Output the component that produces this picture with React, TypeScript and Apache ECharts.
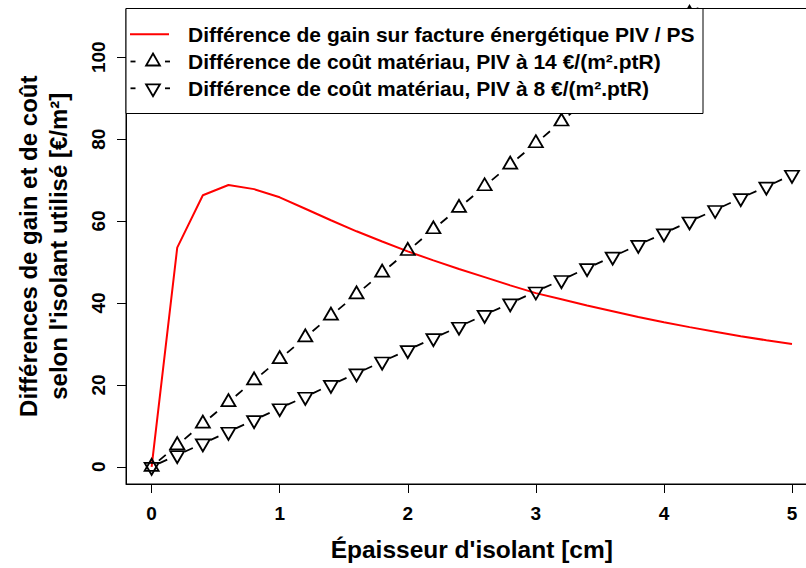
import React, { useEffect, useRef } from "react";
import * as echarts from "echarts";

// ---- data ----
const thickness = [0, 0.2, 0.4, 0.6, 0.8, 1.0, 1.2, 1.4, 1.6, 1.8, 2.0, 2.2, 2.4, 2.6, 2.8, 3.0, 3.2, 3.4, 3.6, 3.8, 4.0, 4.2, 4.4, 4.6, 4.8, 5.0];
const gainDiff = [0, 53.5, 66.3, 68.8, 67.8, 65.8, 63.0, 60.2, 57.5, 55.0, 52.6, 50.4, 48.3, 46.3, 44.3, 42.4, 40.9, 39.4, 38.0, 36.6, 35.3, 34.1, 33.0, 31.9, 30.9, 30.0];
const cost14 = [0, 5.27, 10.54, 15.8, 21.1, 26.3, 31.6, 36.9, 42.1, 47.4, 52.7, 58.0, 63.2, 68.5, 73.8, 79.0, 84.3, 89.6, 94.8, 100.1, 105.4, 110.6, 115.9, 121.2, 126.5, 131.7];
const cost8 = [0, 2.85, 5.7, 8.55, 11.4, 14.3, 17.1, 20.0, 22.8, 25.7, 28.5, 31.4, 34.2, 37.1, 39.9, 42.8, 45.6, 48.5, 51.3, 54.2, 57.0, 59.9, 62.7, 65.6, 68.4, 71.3];
const xTicks = [0, 1, 2, 3, 4, 5];
const yTicks = [0, 20, 40, 60, 80, 100];
const legendLabels = [
  "Différence de gain sur facture énergétique PIV / PS",
  "Différence de coût matériau, PIV à 14 €/(m².ptR)",
  "Différence de coût matériau, PIV à 8 €/(m².ptR)",
];
const xTitle = "Épaisseur d'isolant [cm]";
const yTitle = ["Différences de gain et de coût", "selon l'isolant utilisé [€/m²]"];

// ---- layout ----
const W = 806;
const H = 568;
const X_MIN = -0.2;
const X_MAX = 5.2;
const Y_MIN = -4.2;
const Y_MAX = 111.9;
const GRID = { left: 126, right: -11.6, top: 8.5, bottom: 84 };
const FONT = "'Liberation Sans', Arial, Helvetica, sans-serif";

function dashFor(values: number[], startGap: number, dash: number) {
  const pxX = (W - GRID.left - GRID.right) / (X_MAX - X_MIN);
  const pxY = (H - GRID.top - GRID.bottom) / (Y_MAX - Y_MIN);
  const n = values.length;
  const stepX = (thickness[n - 1] - thickness[0]) / (n - 1);
  const stepY = (values[n - 1] - values[0]) / (n - 1);
  const L = Math.hypot(stepX * pxX, stepY * pxY);
  return { type: [dash, L - dash], dashOffset: L - startGap };
}

export default function App() {
  const ref = useRef<HTMLDivElement>(null);
  useEffect(() => {
    if (!ref.current) return;
    const chart = echarts.init(ref.current, undefined, { renderer: "svg" });
    const d14 = dashFor(cost14, 9, 9);
    const d8 = dashFor(cost8, 8, 9);

    const lx = 126, ly = 8.5, lw = 577, lh = 105;
    const rows = [34.3, 61.5, 88.3];
    const sym = 153;
    const tri = (cx: number, cy: number, up: boolean) => {
      const r = 5.14;
      const hw = 2.694 * r / 2;
      return up
        ? [[cx, cy - 1.555 * r], [cx + hw, cy + 0.778 * r], [cx - hw, cy + 0.778 * r]]
        : [[cx, cy + 1.555 * r], [cx + hw, cy - 0.778 * r], [cx - hw, cy - 0.778 * r]];
    };
    const blackStroke = { stroke: "#000", lineWidth: 1.8 };
    const Z = 100;

    chart.setOption({
      animation: false,
      backgroundColor: "#fff",
      grid: { ...GRID, show: true, borderColor: "#000", borderWidth: 1, containLabel: false, outerBoundsMode: "none" },
      xAxis: {
        type: "value",
        min: X_MIN,
        max: X_MAX,
        name: xTitle,
        nameLocation: "middle",
        nameGap: 53,
        nameTextStyle: { fontFamily: FONT, fontWeight: "bold", fontSize: 24.5, color: "#000" },
        axisLine: { show: true, onZero: false, lineStyle: { color: "#000", width: 1 } },
        axisTick: { show: true, length: 9, customValues: xTicks, lineStyle: { color: "#000", width: 1 } },
        axisLabel: { customValues: xTicks, fontFamily: FONT, fontWeight: "bold", fontSize: 19, color: "#000", margin: 20 },
        splitLine: { show: false },
      },
      yAxis: {
        type: "value",
        min: Y_MIN,
        max: Y_MAX,
        name: yTitle.join("\n"),
        nameLocation: "middle",
        nameRotate: 90,
        nameGap: 53,
        nameTextStyle: { fontFamily: FONT, fontWeight: "bold", fontSize: 24, lineHeight: 30, color: "#000" },
        axisLine: { show: true, onZero: false, lineStyle: { color: "#000", width: 1 } },
        axisTick: { show: true, length: 9, customValues: yTicks, lineStyle: { color: "#000", width: 1 } },
        axisLabel: { customValues: yTicks, rotate: 90, fontFamily: FONT, fontWeight: "bold", fontSize: 19, color: "#000", margin: 18 },
        splitLine: { show: false },
      },
      series: [
        {
          type: "line",
          name: legendLabels[0],
          data: thickness.map((x, i) => [x, gainDiff[i]]),
          showSymbol: false,
          symbol: "none",
          lineStyle: { color: "#ff0000", width: 2 },
          clip: true,
          z: 2,
        },
        {
          type: "line",
          name: legendLabels[1],
          data: thickness.map((x, i) => [x, cost14[i]]),
          symbol: "triangle",
          symbolSize: [14, 12],
          symbolOffset: [0, -2],
          showAllSymbol: true,
          itemStyle: { color: "rgba(0,0,0,0)", borderColor: "#000", borderWidth: 1.8 },
          lineStyle: { color: "#000", width: 1.8, type: d14.type, dashOffset: d14.dashOffset },
          clip: true,
          z: 3,
        },
        {
          type: "line",
          name: legendLabels[2],
          data: thickness.map((x, i) => [x, cost8[i]]),
          symbol: "path://M0,0L14,0L7,12Z",
          symbolSize: [14, 12],
          symbolOffset: [0, 2],
          showAllSymbol: true,
          itemStyle: { color: "rgba(0,0,0,0)", borderColor: "#000", borderWidth: 1.8 },
          lineStyle: { color: "#000", width: 1.8, type: d8.type, dashOffset: d8.dashOffset },
          clip: true,
          z: 3,
        },
      ],
      graphic: {
        elements: [
          { type: "rect", z: Z, shape: { x: lx, y: ly, width: lw, height: lh }, style: { fill: "#fff", stroke: "#000", lineWidth: 1 } },
          { type: "line", z: Z + 1, shape: { x1: 130, y1: rows[0], x2: 169, y2: rows[0] }, style: { stroke: "#ff0000", lineWidth: 2 } },
          { type: "line", z: Z + 1, shape: { x1: 130.5, y1: rows[1], x2: 135.5, y2: rows[1] }, style: blackStroke },
          { type: "line", z: Z + 1, shape: { x1: 165, y1: rows[1], x2: 170, y2: rows[1] }, style: blackStroke },
          { type: "polygon", z: Z + 1, shape: { points: tri(sym, rows[1], true) }, style: { fill: "none", ...blackStroke } },
          { type: "line", z: Z + 1, shape: { x1: 130.5, y1: rows[2], x2: 135.5, y2: rows[2] }, style: blackStroke },
          { type: "line", z: Z + 1, shape: { x1: 165, y1: rows[2], x2: 170, y2: rows[2] }, style: blackStroke },
          { type: "polygon", z: Z + 1, shape: { points: tri(sym, rows[2], false) }, style: { fill: "none", ...blackStroke } },
          ...legendLabels.map((t, i) => ({
            type: "text",
            z: Z + 1,
            x: 188,
            y: rows[i],
            style: { text: t, fill: "#000", font: `bold 21px ${FONT}`, textVerticalAlign: "middle", textAlign: "left" },
          })),
        ],
      },
    });
    return () => chart.dispose();
  }, []);
  return <div ref={ref} style={{ position: "absolute", left: 0, top: 0, width: W, height: H }} />;
}
